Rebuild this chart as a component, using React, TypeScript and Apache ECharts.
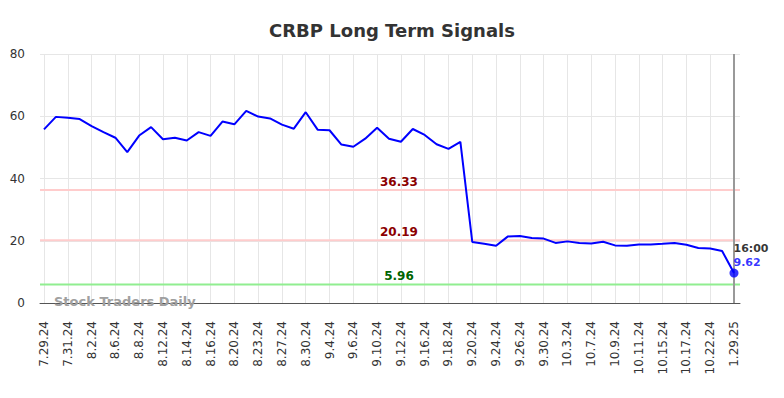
import React, { useEffect, useRef } from "react";
import * as echarts from "echarts";

const TITLE = "CRBP Long Term Signals";
const WATERMARK = "Stock Traders Daily";
const LAST_TIME = "16:00";

const dates = [
  "7.29.24", "7.30.24", "7.31.24", "8.1.24", "8.2.24", "8.5.24", "8.6.24", "8.7.24",
  "8.8.24", "8.9.24", "8.12.24", "8.13.24", "8.14.24", "8.15.24", "8.16.24", "8.19.24",
  "8.20.24", "8.22.24", "8.23.24", "8.26.24", "8.27.24", "8.29.24", "8.30.24", "9.3.24",
  "9.4.24", "9.5.24", "9.6.24", "9.9.24", "9.10.24", "9.11.24", "9.12.24", "9.13.24",
  "9.16.24", "9.17.24", "9.18.24", "9.19.24", "9.20.24", "9.23.24", "9.24.24", "9.25.24",
  "9.26.24", "9.27.24", "9.30.24", "10.2.24", "10.3.24", "10.4.24", "10.7.24", "10.8.24",
  "10.9.24", "10.10.24", "10.11.24", "10.14.24", "10.15.24", "10.16.24", "10.17.24", "10.21.24",
  "10.22.24", "10.23.24", "1.29.25",
];

const values = [
  55.8, 59.8, 59.5, 59.1, 56.8, 54.9, 53.1, 48.5, 53.8, 56.5,
  52.6, 53.1, 52.2, 54.9, 53.7, 58.3, 57.4, 61.7, 59.9, 59.3,
  57.3, 56.0, 61.3, 55.7, 55.5, 50.9, 50.2, 52.8, 56.3, 52.8,
  51.8, 55.9, 54.0, 51.0, 49.5, 51.8, 19.6, 19.0, 18.4, 21.4,
  21.5, 20.9, 20.7, 19.3, 19.8, 19.3, 19.1, 19.7, 18.5, 18.4,
  18.8, 18.8, 19.0, 19.3, 18.7, 17.7, 17.5, 16.7, 9.62,
];

const resistance = [36.33, 20.19];
const support = [5.96];

const yTicks = [0, 20, 40, 60, 80];

export default function App() {
  const ref = useRef<HTMLDivElement>(null);

  useEffect(() => {
    if (!ref.current) return;
    const chart = echarts.init(ref.current, undefined, { renderer: "svg" });
    const lastIdx = values.length - 1;
    const yMin = yTicks[0];
    const yMax = yTicks[yTicks.length - 1];
    const yInt = yTicks[1] - yTicks[0];

    const thresholdSeries = (v: number, color: string, labelColor: string) => ({
      type: "line",
      xAxisIndex: 0,
      yAxisIndex: 0,
      data: [[0, v], [1, v]],
      symbol: "none",
      silent: true,
      z: 2,
      lineStyle: { color, width: 2 },
      markLine: {
        silent: true,
        symbol: "none",
        animation: false,
        data: [
          {
            yAxis: v,
            lineStyle: { color: "rgba(0,0,0,0)", width: 1, type: "solid" },
            label: {
              show: true,
              position: "insideMiddleTop",
              formatter: String(v),
              color: labelColor,
              fontWeight: "bold",
              fontSize: 12,
              distance: 2,
              offset: [9, 0],
              fontFamily: "DejaVu Sans",
            },
          },
        ],
      },
    });

    chart.setOption({
      animation: false,
      textStyle: { fontFamily: "DejaVu Sans" },
      title: {
        text: TITLE,
        left: "center",
        top: 16,
        textStyle: { fontSize: 18, fontWeight: "bold", color: "#333", fontFamily: "DejaVu Sans" },
      },
      grid: [
        { left: 40, right: 44, top: 54, bottom: 95 },
        { left: 44, right: 50, top: 54, bottom: 95 },
      ],
      xAxis: [
        {
          type: "value",
          gridIndex: 0,
          min: 0,
          max: 1,
          axisLine: { show: true, onZero: false, lineStyle: { color: "#555", width: 1 } },
          axisTick: { show: false },
          axisLabel: { show: false },
          splitLine: { show: false },
        },
        {
          type: "category",
          gridIndex: 1,
          data: dates,
          boundaryGap: false,
          axisLine: { show: false },
          axisTick: { show: false },
          axisLabel: {
            rotate: 90,
            interval: 1,
            margin: 18,
            fontSize: 12,
            color: "#333",
            fontFamily: "DejaVu Sans",
          },
          splitLine: { show: true, interval: 1, lineStyle: { color: "#e6e6e6", width: 1 } },
        },
      ],
      yAxis: [
        {
          type: "value",
          gridIndex: 0,
          min: yMin,
          max: yMax,
          interval: yInt,
          axisLine: { show: false },
          axisTick: { show: false },
          axisLabel: { fontSize: 12, color: "#333", margin: 15, fontFamily: "DejaVu Sans" },
          splitLine: { show: true, lineStyle: { color: "#e6e6e6", width: 1 } },
        },
        {
          type: "value",
          gridIndex: 1,
          min: yMin,
          max: yMax,
          interval: yInt,
          show: false,
        },
      ],
      graphic: [
        {
          type: "text",
          left: 54,
          top: 295,
          z: 100,
          style: {
            text: WATERMARK,
            fontSize: 13,
            fontWeight: "bold",
            fill: "#a0a0a0",
            fontFamily: "DejaVu Sans",
          },
        },
      ],
      series: [
        ...resistance.map((v) => thresholdSeries(v, "#ffcccc", "#8b0000")),
        ...support.map((v) => thresholdSeries(v, "#90ee90", "#006400")),
        {
          type: "line",
          xAxisIndex: 1,
          yAxisIndex: 1,
          data: values,
          symbol: "none",
          lineStyle: { color: "#0000ff", width: 2 },
          z: 5,
          markLine: {
            silent: true,
            symbol: "none",
            animation: false,
            data: [
              {
                xAxis: dates[lastIdx],
                lineStyle: { color: "#999", width: 2, type: "solid" },
                label: { show: false },
              },
            ],
          },
        },
        {
          type: "scatter",
          xAxisIndex: 1,
          yAxisIndex: 1,
          data: [[dates[lastIdx], values[lastIdx]]],
          symbol: "circle",
          symbolSize: 9,
          itemStyle: { color: "#0000ff" },
          z: 10,
          label: {
            show: true,
            position: [4, 1],
            align: "left",
            verticalAlign: "bottom",
            formatter: (p: any) => `{t|${LAST_TIME}}\n{v|${p.value[1]}}`,
            rich: {
              t: { color: "#000", fontWeight: "bold", fontSize: 11, lineHeight: 14, fontFamily: "DejaVu Sans" },
              v: { color: "#0000ff", fontWeight: "bold", fontSize: 11, lineHeight: 14, fontFamily: "DejaVu Sans" },
            },
          },
        },
      ],
    });

    return () => chart.dispose();
  }, []);

  return (
    <div
      ref={ref}
      style={{ position: "absolute", left: 0, top: 0, width: 784, height: 398 }}
    />
  );
}
